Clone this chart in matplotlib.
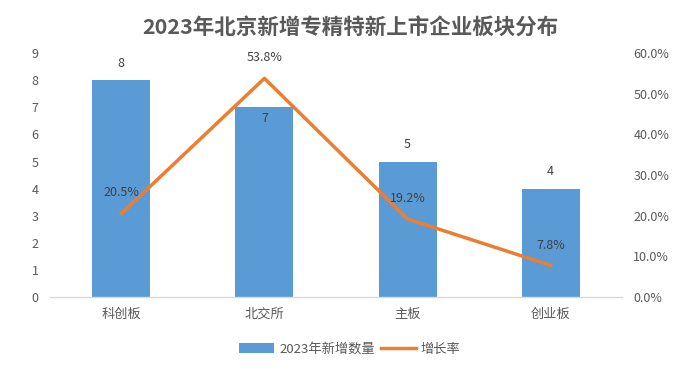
import matplotlib.pyplot as plt
from matplotlib.ticker import PercentFormatter

plt.rcParams['font.family'] = ['Noto Sans CJK SC', 'DejaVu Sans']

categories = ['科创板', '北交所', '主板', '创业板']
new_counts = [8, 7, 5, 4]
growth_rate = [20.5, 53.8, 19.2, 7.8]

bar_color = '#5B9BD5'
line_color = '#ED7D31'
text_color = '#595959'
label_color = '#404040'

fig = plt.figure(figsize=(7, 3.69), dpi=100)
ax = fig.add_axes([0.071, 0.195, 0.818, 0.661])
ax2 = ax.twinx()

x = range(len(categories))
bars = ax.bar(x, new_counts, width=0.405, color=bar_color, label='2023年新增数量', zorder=2)
line, = ax2.plot(x, growth_rate, color=line_color, linewidth=2.5, label='增长率', zorder=3)

ax.set_xlim(-0.5, len(categories) - 0.5)
ax.set_ylim(0, 9)
ax.set_yticks(range(0, 10))
ax2.set_ylim(0, 60)
ax2.set_yticks(range(0, 61, 10))
ax2.yaxis.set_major_formatter(PercentFormatter(decimals=1))

ax.set_xticks(list(x))
ax.set_xticklabels(categories)

for a in (ax, ax2):
    for side in ('top', 'left', 'right', 'bottom'):
        a.spines[side].set_visible(False)
    a.tick_params(length=0, labelsize=9, labelcolor=text_color)
ax.spines['bottom'].set_visible(True)
ax.spines['bottom'].set_color('#D9D9D9')
ax.spines['bottom'].set_linewidth(1)
ax.tick_params(axis='x', pad=8, labelsize=9.5)
ax.tick_params(axis='y', pad=8)
ax2.tick_params(axis='y', pad=8)

# bar value labels (the 北交所 one sits just under the bar top, as in the source)
bar_offsets = [12, -8, 12, 12]
for i, v in enumerate(new_counts):
    ax.annotate(str(v), (i, v), xytext=(0, bar_offsets[i]), textcoords='offset points',
                ha='center', va='center', fontsize=9, color=label_color)

line_offsets = [(0, 15), (0, 15), (0, 15), (0, 14)]
for i, v in enumerate(growth_rate):
    ax2.annotate('{:.1f}%'.format(v), (i, v), xytext=line_offsets[i], textcoords='offset points',
                 ha='center', va='center', fontsize=9, color=label_color, zorder=5)

fig.suptitle('2023年北京新增专精特新上市企业板块分布', y=0.955, fontsize=15.5,
             fontweight='bold', color=text_color)

fig.legend(handles=[bars, line], loc='center', bbox_to_anchor=(0.5, 0.053), ncol=2,
           frameon=False, fontsize=9.5, labelcolor=text_color, handlelength=2.6,
           handleheight=0.8, columnspacing=0.5, handletextpad=0.4)

fig.savefig('out.png', dpi=100)
